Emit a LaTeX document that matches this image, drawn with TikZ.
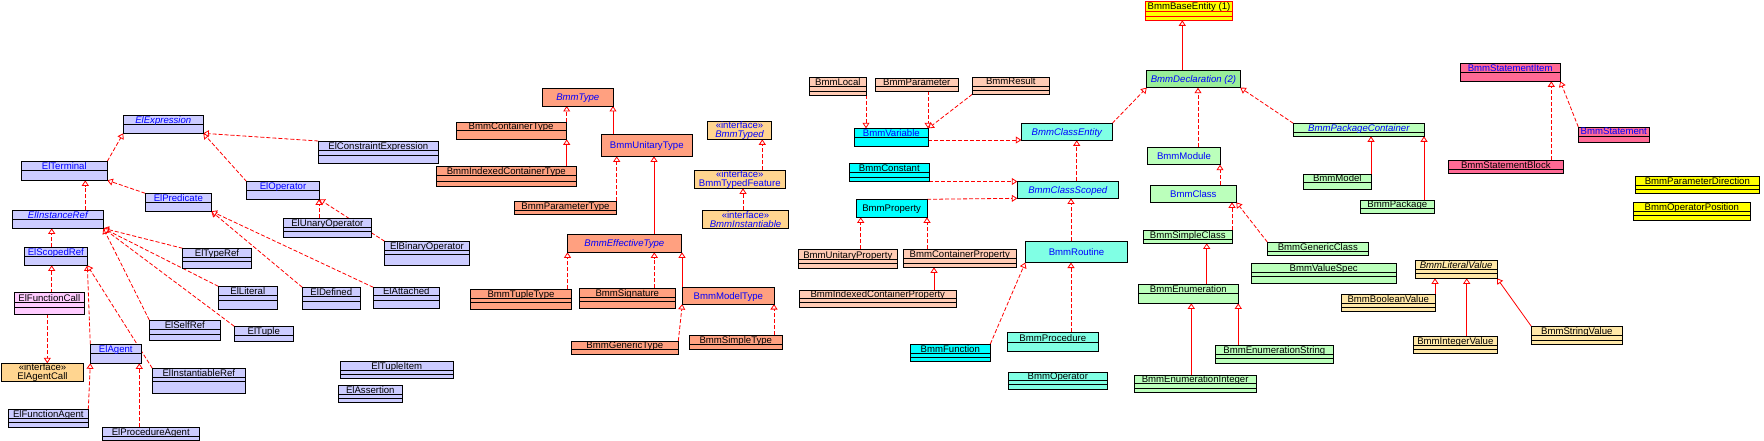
\documentclass[tikz,border=0pt]{standalone}
\usepackage{fontspec}
\setmainfont{Liberation Sans}
\usetikzlibrary{arrows.meta}
\pgfdeclarelayer{bg}
\pgfsetlayers{bg,main}
\definecolor{elc}{HTML}{CCCCFF}
\definecolor{fcc}{HTML}{FFCCFF}
\definecolor{tyc}{HTML}{FFA080}
\definecolor{pcc}{HTML}{FFCBB4}
\definecolor{ifc}{HTML}{FFD590}
\definecolor{cyc}{HTML}{00FFFF}
\definecolor{aqc}{HTML}{80FFE4}
\definecolor{yec}{HTML}{FFFF00}
\definecolor{dgc}{HTML}{99EE99}
\definecolor{pgc}{HTML}{BBFFBB}
\definecolor{pkc}{HTML}{FF6A95}
\definecolor{lvc}{HTML}{FFE8A8}
\definecolor{tblue}{HTML}{0000FF}
\definecolor{lred}{HTML}{FF0000}
\tikzset{
 cbox/.style={draw=black, line width=0.9pt, inner sep=0pt, outer sep=0pt, rectangle},
 divl/.style={draw=black, line width=0.9pt},
 lbl/.style={inner sep=0pt, font=\fontsize{9.6}{9}\selectfont, text=black},
 ilbl/.style={inner sep=0pt, font=\fontsize{9.6}{8.8}\selectfont, align=center, text=black},
 gen/.style={draw=lred, line width=0.8pt, -{Triangle[open,fill=white,length=5.5pt,width=7pt]}},
 real/.style={gen, dash pattern=on 4pt off 2pt},
}
\newcommand\txbi[1]{\textcolor{tblue}{\itshape #1}}
\newcommand\txbu[1]{\textcolor{tblue}{#1}}
% box with compartments: name x1 y1 x2 y2 style d1 {,more} text
\newcommand\clsA[9]{%
 \node[cbox,#6,minimum width={#4-#2},minimum height={#5-#3},anchor=north west] (#1) at (#2,#3) {};
 \foreach \dd in {#7#8} {\draw[divl] (#2,\dd) -- (#4,\dd);}
 \node[lbl,anchor=base] (#1-t) at ({(#2+#4)/2},{#7-1}) {#9};
}
% plain box
\newcommand\clsB[7]{%
 \node[cbox,#6,minimum width={#4-#2},minimum height={#5-#3},anchor=north west] (#1) at (#2,#3) {};
 \node[lbl,anchor=base] (#1-t) at ({(#2+#4)/2},{(#3+#5)/2+3.4}) {#7};
}
% interface box
\newcommand\clsI[8]{%
 \node[cbox,#6,minimum width={#4-#2},minimum height={#5-#3},anchor=north west] (#1) at (#2,#3) {};
 \node[ilbl] (#1-t) at ({(#2+#4)/2},{(#3+#5)/2+0.3}) {#7\\#8};
}
\begin{document}
\begin{tikzpicture}[x=1pt,y=-1pt]
\useasboundingbox (0,0) rectangle (1764,441);
% ---------- El classes
\clsA{ElExpression}{123.3}{115.3}{203.3}{133.3}{fill=elc}{124.3}{}{\txbi{ElExpression}}
\clsA{ElTerminal}{21.3}{161.3}{107.3}{180.3}{fill=elc}{170.7}{}{\txbu{ElTerminal}}
\clsA{ElPredicate}{145.3}{193.3}{211.3}{211.3}{fill=elc}{202.3}{}{\txbu{ElPredicate}}
\clsA{ElInstanceRef}{12.3}{210.3}{103.3}{228.3}{fill=elc}{219.3}{}{\txbi{ElInstanceRef}}
\clsA{ElScopedRef}{24.3}{247.3}{87.3}{265.3}{fill=elc}{256.3}{}{\txbu{ElScopedRef}}
\clsA{ElTypeRef}{182.7}{248.3}{251.3}{268.3}{fill=elc}{257.7}{,261.7}{ElTypeRef}
\clsA{ElOperator}{246.7}{181.7}{319.3}{199.3}{fill=elc}{190.3}{}{\txbu{ElOperator}}
\clsA{ElFunctionCall}{14.3}{292.7}{84.3}{314.3}{fill=fcc}{302.3}{,307}{ElFunctionCall}
\clsA{ElLiteral}{218.3}{286.3}{277.3}{309.3}{fill=elc}{295.7}{,300.3}{ElLiteral}
\clsA{ElSelfRef}{149.3}{320}{220.3}{340.3}{fill=elc}{329.3}{,334.3}{ElSelfRef}
\clsA{ElTuple}{234.3}{326.3}{293.3}{341.3}{fill=elc}{335.3}{}{ElTuple}
\clsA{ElAgent}{90.3}{344.3}{141.3}{363.3}{fill=elc}{353.7}{}{\txbu{ElAgent}}
\clsI{ElAgentCall}{1.7}{363.3}{83.3}{381.3}{fill=ifc}{«interface»}{ElAgentCall}
\clsA{ElInstantiableRef}{152.3}{368.3}{245.3}{393}{fill=elc}{377}{,381.7}{ElInstantiableRef}
\clsA{ElFunctionAgent}{8.3}{409.3}{88.3}{427}{fill=elc}{418.3}{,422.7}{ElFunctionAgent}
\clsA{ElProcedureAgent}{102.3}{427.3}{199.3}{440}{fill=elc}{436}{}{ElProcedureAgent}
\clsA{ElConstraintExpression}{318.3}{141}{438.3}{163.3}{fill=elc}{150.7}{,155}{ElConstraintExpression}
\clsA{ElUnaryOperator}{283.3}{218.3}{371.3}{237.3}{fill=elc}{227.7}{,231.7}{ElUnaryOperator}
\clsA{ElBinaryOperator}{384.7}{241.3}{469.3}{265.3}{fill=elc}{250.7}{,254.7}{ElBinaryOperator}
\clsA{ElDefined}{302.3}{287.3}{360.3}{309.3}{fill=elc}{296.3}{,301.3}{ElDefined}
\clsA{ElAttached}{373.3}{287.3}{439.3}{308.3}{fill=elc}{295.7}{,300.3}{ElAttached}
\clsA{ElTupleItem}{340.3}{361.3}{453.3}{378.3}{fill=elc}{370.3}{,374.3}{ElTupleItem}
\clsA{ElAssertion}{338.3}{385.3}{402.3}{402.3}{fill=elc}{394}{,398.3}{ElAssertion}
% ---------- Bmm types
\clsB{BmmType}{542.3}{88.3}{613.3}{106}{fill=tyc}{\txbi{BmmType}}
\clsA{BmmContainerType}{456}{122}{566.3}{139.3}{fill=tyc}{130.7}{}{BmmContainerType}
\clsA{BmmIndexedContainerType}{436.3}{166}{576.3}{186.3}{fill=tyc}{175.7}{,181}{BmmIndexedContainerType}
\clsA{BmmParameterType}{514.3}{201}{616.7}{214.3}{fill=tyc}{210}{}{BmmParameterType}
\clsB{BmmUnitaryType}{601.3}{134.3}{692.3}{156.3}{fill=tyc}{\txbu{BmmUnitaryType}}
\clsB{BmmEffectiveType}{567.3}{234}{681.3}{252.3}{fill=tyc}{\txbi{BmmEffectiveType}}
\clsA{BmmTupleType}{470.3}{289.3}{571.7}{309.3}{fill=tyc}{298.3}{,302.3}{BmmTupleType}
\clsA{BmmSignature}{579.3}{288.3}{675.3}{308.3}{fill=tyc}{297.3}{,301.7}{BmmSignature}
\clsB{BmmModelType}{682.3}{287.3}{774.3}{304}{fill=tyc}{\txbu{BmmModelType}}
\clsA{BmmGenericType}{571.3}{341}{678.3}{354}{fill=tyc}{349.7}{}{BmmGenericType}
\clsA{BmmSimpleType}{689.3}{335.3}{782.3}{349.3}{fill=tyc}{344.3}{}{BmmSimpleType}
\clsI{BmmTyped}{707.7}{121.3}{771.3}{139.3}{fill=ifc}{\txbu{«interface»}}{\txbi{BmmTyped}}
\clsI{BmmTypedFeature}{694.3}{170.3}{785.3}{188.3}{fill=ifc}{\txbu{«interface»}}{\txbu{BmmTypedFeature}}
\clsI{BmmInstantiable}{702.3}{210}{788.7}{228.3}{fill=ifc}{\txbu{«interface»}}{\txbi{BmmInstantiable}}
% ---------- variables, properties, routines
\clsA{BmmLocal}{809.3}{77.3}{866.3}{95}{fill=pcc}{86.7}{,91}{BmmLocal}
\clsA{BmmParameter}{875.3}{78}{958.3}{91.3}{fill=pcc}{86.7}{}{BmmParameter}
\clsA{BmmResult}{972.3}{77.3}{1049.3}{94.3}{fill=pcc}{86}{,90.3}{BmmResult}
\clsA{BmmUnitaryProperty}{798.3}{249.3}{897.3}{268.3}{fill=pcc}{259}{,263.3}{BmmUnitaryProperty}
\clsA{BmmContainerProperty}{903.3}{249.3}{1016.3}{267.3}{fill=pcc}{258.3}{,263.3}{BmmContainerProperty}
\clsA{BmmIndexedContainerProperty}{799.3}{290}{956.3}{307.3}{fill=pcc}{298.7}{,302.7}{BmmIndexedContainerProperty}
\clsA{BmmVariable}{854.3}{128.3}{928.3}{146.3}{fill=cyc}{137.3}{}{\txbu{BmmVariable}}
\clsA{BmmConstant}{849.3}{163.3}{929.3}{181.3}{fill=cyc}{172.7}{,177}{BmmConstant}
\clsB{BmmProperty}{856.3}{199.3}{927}{217.3}{fill=cyc}{BmmProperty}
\clsA{BmmFunction}{910.3}{344}{990.3}{361.3}{fill=cyc}{353.3}{,357}{BmmFunction}
\clsB{BmmClassEntity}{1021.3}{123.3}{1112.3}{140.3}{fill=aqc}{\txbi{BmmClassEntity}}
\clsB{BmmClassScoped}{1017.3}{181.3}{1118.3}{198.3}{fill=aqc}{\txbi{BmmClassScoped}}
\clsB{BmmRoutine}{1025.3}{241.3}{1127.7}{262.5}{fill=aqc}{\txbu{BmmRoutine}}
\clsA{BmmProcedure}{1007.3}{332.3}{1098.3}{351.3}{fill=aqc}{342}{}{BmmProcedure}
\clsA{BmmOperator}{1008.3}{372}{1107.3}{389.3}{fill=aqc}{380.3}{,384.7}{BmmOperator}
% ---------- declarations
\clsA{BmmBaseEntity}{1145.7}{1}{1232.3}{20.3}{fill=yec,draw=lred}{11}{,16}{BmmBaseEntity (1)}
\draw[divl,draw=lred] (1145.7,11) -- (1232.3,11) (1145.7,16) -- (1232.3,16);
\clsB{BmmDeclaration}{1146.7}{70.3}{1240.3}{87.7}{fill=dgc}{\txbi{BmmDeclaration (2)}}
\clsB{BmmModule}{1147.3}{147}{1220.7}{164.7}{fill=pgc}{\txbu{BmmModule}}
\clsB{BmmClass}{1150.3}{185}{1236.3}{202.3}{fill=pgc}{\txbu{BmmClass}}
\clsA{BmmPackageContainer}{1293.3}{123.3}{1424.3}{136.3}{fill=pgc}{132.3}{}{\txbi{BmmPackageContainer}}
\clsA{BmmModel}{1303.3}{174.3}{1371.3}{189.3}{fill=pgc}{182.7}{}{BmmModel}
\clsA{BmmPackage}{1360.3}{200.3}{1434.3}{213.3}{fill=pgc}{208.7}{}{BmmPackage}
\clsA{BmmSimpleClass}{1143.3}{230.3}{1232.3}{243.3}{fill=pgc}{239.3}{}{BmmSimpleClass}
\clsA{BmmGenericClass}{1267.3}{242}{1368.3}{255.3}{fill=pgc}{251}{}{BmmGenericClass}
\clsA{BmmValueSpec}{1251.3}{263.3}{1396}{283.3}{fill=pgc}{272.3}{,276.7}{BmmValueSpec}
\clsA{BmmEnumeration}{1138.3}{284.3}{1238.3}{303.3}{fill=pgc}{293.7}{}{BmmEnumeration}
\clsA{BmmEnumerationString}{1215.3}{345.3}{1333.3}{363.3}{fill=pgc}{354}{,358.7}{BmmEnumerationString}
\clsA{BmmEnumerationInteger}{1134.3}{375}{1256}{392.3}{fill=pgc}{383.7}{,388.3}{BmmEnumerationInteger}
% ---------- statements, values, enums
\clsA{BmmStatementItem}{1460}{63.3}{1560.3}{81.3}{fill=pkc}{72.3}{}{\txbu{BmmStatementItem}}
\clsA{BmmStatement}{1578.3}{127}{1649.3}{142.3}{fill=pkc}{136}{}{\txbu{BmmStatement}}
\clsA{BmmStatementBlock}{1448.3}{160}{1563.3}{173.3}{fill=pkc}{169.3}{}{BmmStatementBlock}
\clsA{BmmLiteralValue}{1415.3}{260.3}{1497}{278.3}{fill=lvc}{269.3}{,273.7}{\itshape BmmLiteralValue}
\clsA{BmmBooleanValue}{1341.3}{294.3}{1435.3}{311.3}{fill=lvc}{303.3}{,307.3}{BmmBooleanValue}
\clsA{BmmIntegerValue}{1413.3}{336}{1497.3}{353.3}{fill=lvc}{345}{,349}{BmmIntegerValue}
\clsA{BmmStringValue}{1531.3}{326.3}{1622.3}{344.3}{fill=lvc}{335.7}{,340}{BmmStringValue}
\clsA{BmmParameterDirection}{1635.3}{176}{1759.3}{193.3}{fill=yec}{185.7}{,189.7}{BmmParameterDirection}
\clsA{BmmOperatorPosition}{1633.3}{202.3}{1750.3}{220}{fill=yec}{211}{,215.3}{BmmOperatorPosition}
% ---------- connectors (behind boxes)
\begin{pgfonlayer}{bg}
\draw[real] (ElTerminal.north east) -- (ElExpression.south west);
\draw[real] (ElOperator.north west) -- (ElExpression.south east);
\draw[real] (ElConstraintExpression.north west) -- (ElExpression.south east);
\draw[real] (ElInstanceRef.north -| 85.3,0) -- (ElTerminal.south -| 85.3,0);
\draw[real] (ElPredicate.north west) -- (ElTerminal.south east);
\draw[real] (ElScopedRef.north -| 51.7,0) -- (ElInstanceRef.south -| 51.7,0);
\draw[real] (ElTypeRef.north west) -- (ElInstanceRef.south east);
\draw[real] (ElLiteral.north west) -- (ElInstanceRef.south east);
\draw[real] (ElSelfRef.north west) -- (ElInstanceRef.south east);
\draw[real] (ElTuple.north west) -- (ElInstanceRef.south east);
\draw[real] (ElFunctionCall.north -| 51.7,0) -- (ElScopedRef.south -| 51.7,0);
\draw[real] (ElFunctionCall.south -| 47.3,0) -- (ElAgentCall.north -| 47.3,0);
\draw[real] (ElAgent.north west) -- (ElScopedRef.south east);
\draw[real] (ElInstantiableRef.north west) -- (ElScopedRef.south east);
\draw[real] (ElFunctionAgent.north east) -- (ElAgent.south west);
\draw[real] (ElProcedureAgent.north -| 139.3,0) -- (ElAgent.south -| 139.3,0);
\draw[real] (ElDefined.north west) -- (ElPredicate.south east);
\draw[real] (ElAttached.north west) -- (ElPredicate.south east);
\draw[real] (ElUnaryOperator.north -| 319,0) -- (ElOperator.south -| 319,0);
\draw[real] (ElBinaryOperator.north west) -- (ElOperator.south east);
\draw[real] (BmmContainerType.north -| 566.7,0) -- (BmmType.south -| 566.7,0);
\draw[gen] (BmmIndexedContainerType.north -| 566.7,0) -- (BmmContainerType.south -| 566.7,0);
\draw[gen] (BmmUnitaryType.north -| 613,0) -- (BmmType.south -| 613,0);
\draw[real] (BmmParameterType.north -| 616.7,0) -- (BmmUnitaryType.south -| 616.7,0);
\draw[gen] (BmmEffectiveType.north -| 654,0) -- (BmmUnitaryType.south -| 654,0);
\draw[real] (BmmTypedFeature.north -| 762.3,0) -- (BmmTyped.south -| 762.3,0);
\draw[real] (BmmInstantiable.north -| 743,0) -- (BmmTypedFeature.south -| 743,0);
\draw[real] (BmmTupleType.north -| 567.5,0) -- (BmmEffectiveType.south -| 567.5,0);
\draw[real] (BmmSignature.north -| 654.3,0) -- (BmmEffectiveType.south -| 654.3,0);
\draw[gen] (BmmModelType.north -| 682,0) -- (BmmEffectiveType.south -| 682,0);
\draw[real] (BmmGenericType.north east) -- (BmmModelType.south west);
\draw[real] (BmmSimpleType.north -| 774,0) -- (BmmModelType.south -| 774,0);
\draw[real] (BmmLocal.south -| 866,0) -- (BmmVariable.north -| 866,0);
\draw[real] (BmmParameter.south -| 928,0) -- (BmmVariable.north -| 928,0);
\draw[real] (BmmResult.south west) -- (BmmVariable.north east);
\draw[real] (BmmVariable.east |- 0,140) -- (BmmClassEntity.west |- 0,140);
\draw[real] (BmmConstant.east |- 0,181.5) -- (BmmClassScoped.west |- 0,181.5);
\draw[real] (BmmProperty.north east) -- (BmmClassScoped.south west);
\draw[real] (BmmClassScoped.north -| 1076.7,0) -- (BmmClassEntity.south -| 1076.7,0);
\draw[real] (BmmUnitaryProperty.north -| 860.7,0) -- (BmmProperty.south -| 860.7,0);
\draw[real] (BmmContainerProperty.north -| 927,0) -- (BmmProperty.south -| 927,0);
\draw[gen] (BmmIndexedContainerProperty.north -| 934,0) -- (BmmContainerProperty.south -| 934,0);
\draw[real] (BmmRoutine.north -| 1071,0) -- (BmmClassScoped.south -| 1071,0);
\draw[real] (BmmFunction.north east) -- (BmmRoutine.south west);
\draw[real] (BmmProcedure.north -| 1071,0) -- (BmmRoutine.south -| 1071,0);
\draw[real] (BmmClassEntity.north east) -- (BmmDeclaration.south west);
\draw[gen] (BmmDeclaration.north -| 1182.3,0) -- (BmmBaseEntity.south -| 1182.3,0);
\draw[real] (BmmModule.north -| 1198,0) -- (BmmDeclaration.south -| 1198,0);
\draw[real] (BmmPackageContainer.north west) -- (BmmDeclaration.south east);
\draw[real] (BmmClass.north -| 1220,0) -- (BmmModule.south -| 1220,0);
\draw[gen] (BmmModel.north -| 1371,0) -- (BmmPackageContainer.south -| 1371,0);
\draw[gen] (BmmPackage.north -| 1424,0) -- (BmmPackageContainer.south -| 1424,0);
\draw[real] (BmmSimpleClass.north -| 1232,0) -- (BmmClass.south -| 1232,0);
\draw[real] (BmmGenericClass.north west) -- (BmmClass.south east);
\draw[gen] (BmmEnumeration.north -| 1206.7,0) -- (BmmSimpleClass.south -| 1206.7,0);
\draw[gen] (BmmEnumerationInteger.north -| 1191.3,0) -- (BmmEnumeration.south -| 1191.3,0);
\draw[gen] (BmmEnumerationString.north -| 1238.3,0) -- (BmmEnumeration.south -| 1238.3,0);
\draw[real] (BmmStatementBlock.north -| 1551.3,0) -- (BmmStatementItem.south -| 1551.3,0);
\draw[real] (BmmStatement.north west) -- (BmmStatementItem.south east);
\draw[gen] (BmmBooleanValue.north -| 1435,0) -- (BmmLiteralValue.south -| 1435,0);
\draw[gen] (BmmIntegerValue.north -| 1466.7,0) -- (BmmLiteralValue.south -| 1466.7,0);
\draw[gen] (BmmStringValue.north west) -- (BmmLiteralValue.south east);
\end{pgfonlayer}
\end{tikzpicture}
\end{document}
